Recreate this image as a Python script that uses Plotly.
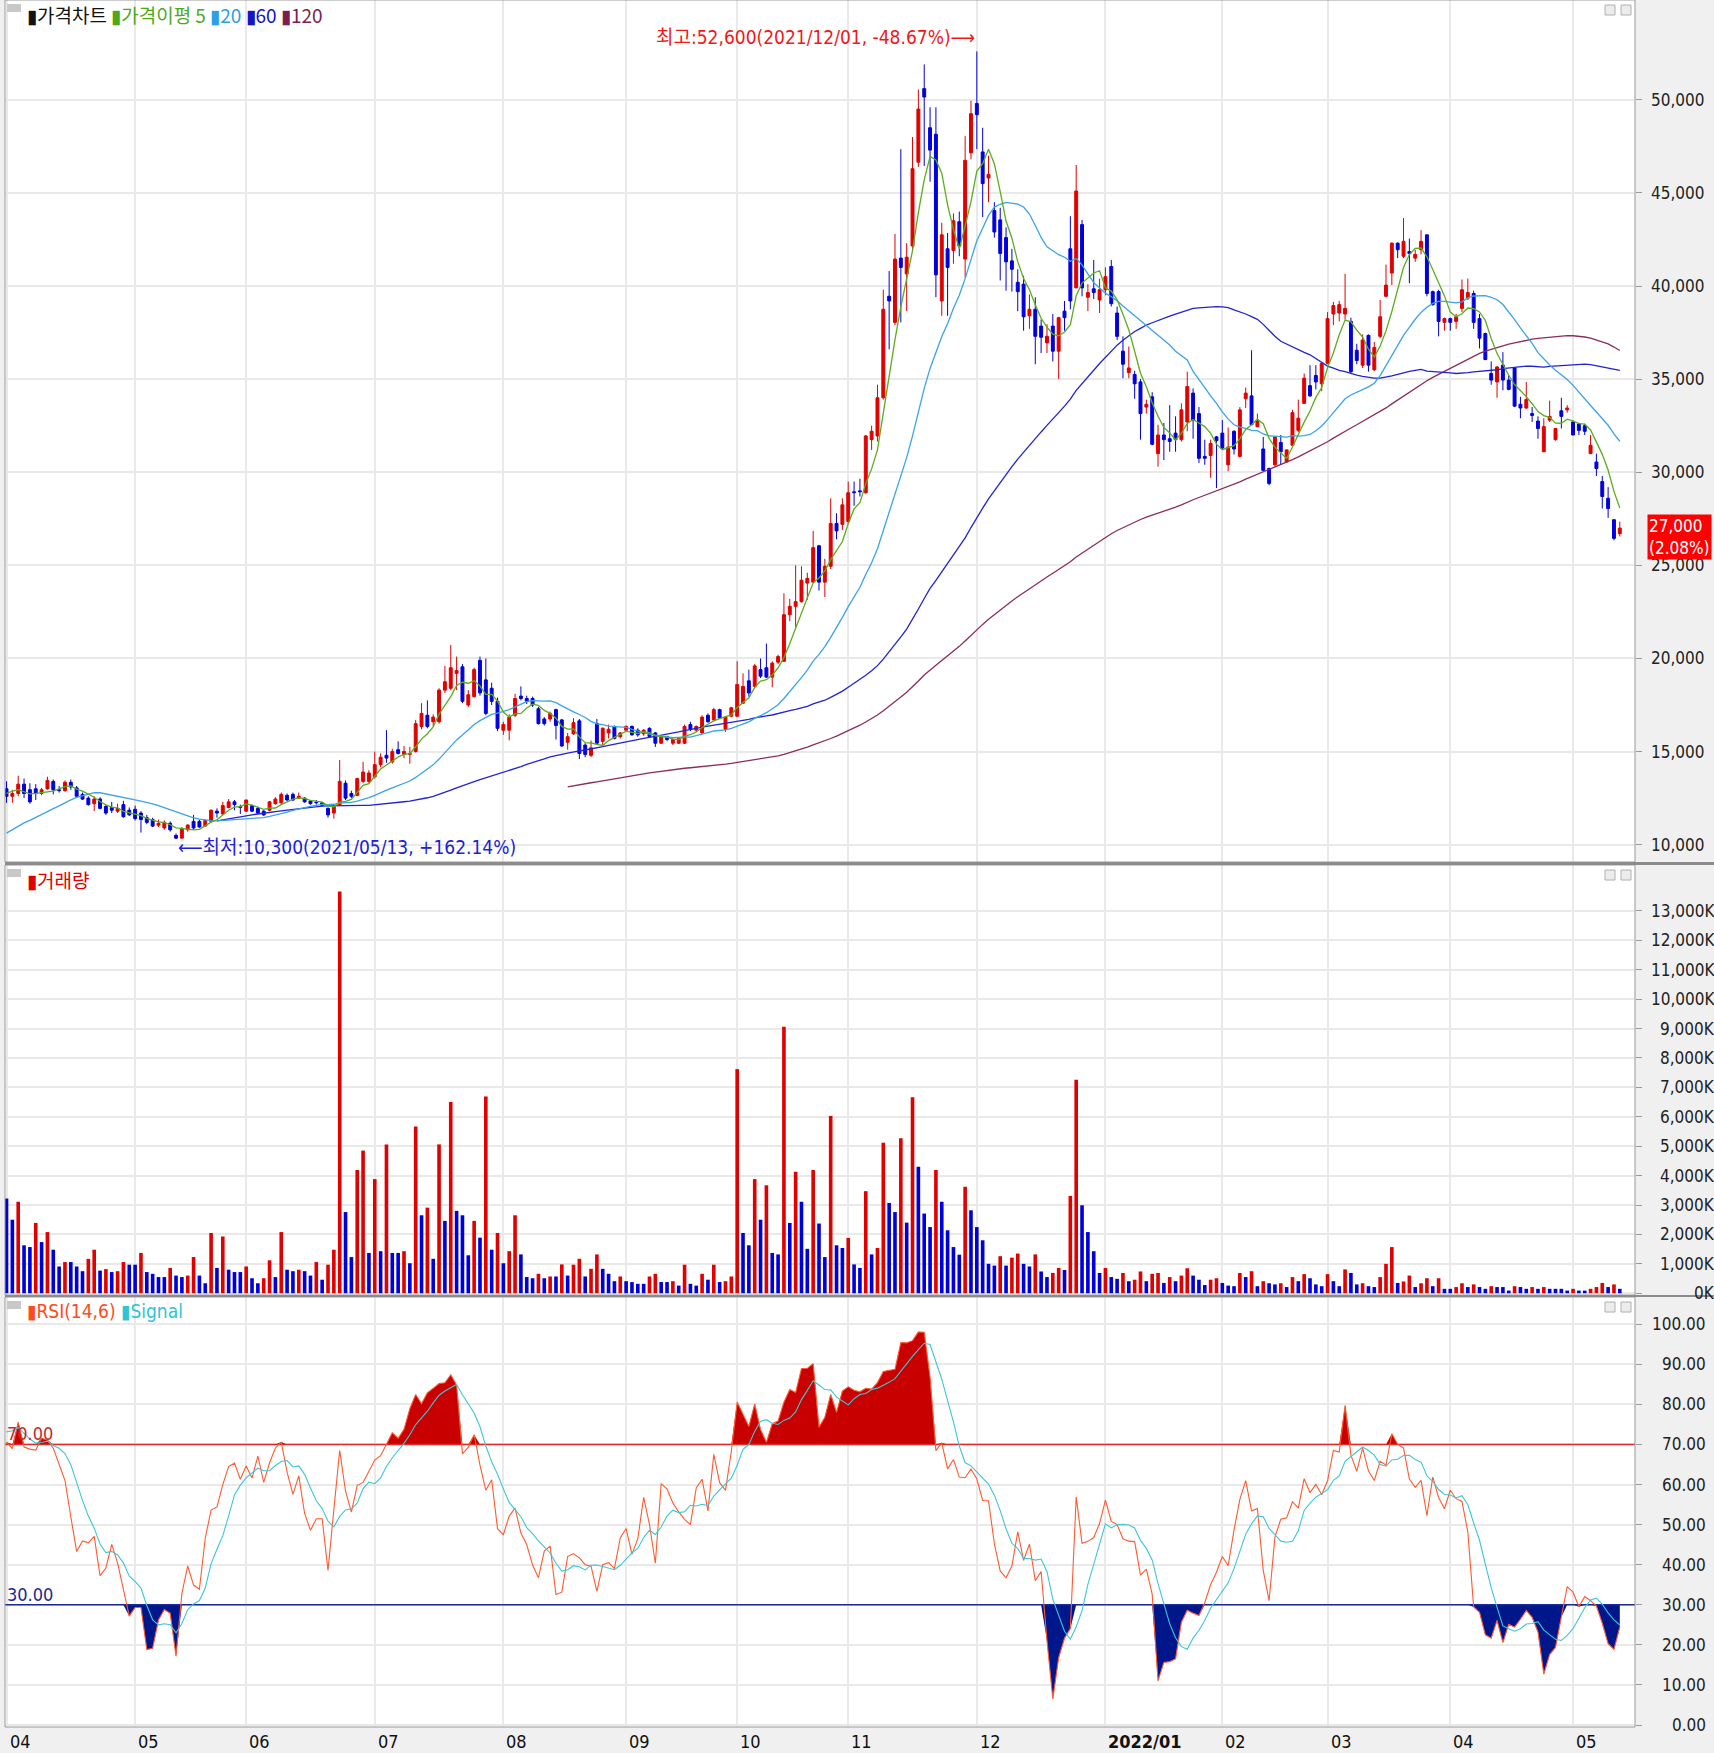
import numpy as np
import plotly.graph_objects as go

# ---------------- data (trading-day index 0 = 2021-04-01) ----------------
month_labels = ["04", "05", "06", "07", "08", "09", "10", "11", "12", "2022/01", "02", "03", "04", "05"]
month_start_idx = [0, 22, 41, 63, 85, 106, 125, 144, 166, 188, 208, 226, 247, 268]

# warm-up values before 2021-04-01 (only used for moving averages / RSI / volume colour)
pre_close = [8600, 8400, 8900, 8700, 9100, 9500, 9200, 9600, 9400, 9800, 10300, 9900,
             10100, 9700, 10200, 10000, 10600, 10300, 11000, 12100, 12900, 13300, 12850]
pre_volume_k = [3500]

opens = [
    # Apr 2021
    13000, 12600, 12750, 13250, 12950, 13000, 12750, 13000, 13400, 12950, 12900, 13350, 13050, 12700, 12500, 12200, 12450, 12050, 12000, 11800, 12150, 11850,
    # May
    11900, 11700, 11450, 11350, 11050, 10900, 11150, 10500, 10350, 10800, 11250, 11250, 11000, 11250, 11800, 11650, 12000, 12300, 12050,
    # Jun
    11800, 12100, 11950, 11800, 11850, 12200, 12250, 12650, 12700, 12500, 12500, 12350, 12300, 12250, 11950, 11700, 12150, 13300, 12750, 12650, 13400, 13400,
    # Jul
    13650, 14300, 14800, 14450, 15100, 14850, 14850, 15000, 16350, 16950, 16600, 16600, 18300, 18400, 19200, 19550, 17500, 17950, 19900, 18850, 18400, 17700,
    # Aug
    16150, 16150, 16950, 17980, 17850, 17850, 17300, 16750, 16750, 17250, 16700, 15500, 15950, 16650, 15350, 14800, 16500, 15550, 16000, 16350, 15800,
    # Sep
    16150, 16350, 16150, 15950, 16250, 16000, 15450, 15800, 15450, 15450, 15450, 16450, 16150, 16000, 16950, 16700, 17250, 16200, 16900,
    # Oct
    16900, 17600, 18800, 18500, 19400, 19500, 19000, 19800, 19850, 22350, 22800, 23050, 24050, 24100, 26050, 24100, 24950, 27250, 27200,
    # Nov
    27350, 28950, 29000, 28900, 31750, 31950, 34000, 39450, 38050, 41500, 40650, 42150, 46650, 50600, 48500, 48150, 39200, 42000, 41900, 43450, 41450, 47150,
    # Dec
    49800, 47200, 45800, 44050, 43550, 42600, 41350, 40200, 40100, 38400, 38750, 37850, 36950, 37850, 36500, 38650, 42000, 39900, 43300, 39400, 39850, 39250,
    # Jan 2022
    39800, 41050, 38550, 36500, 35350, 35250, 34850, 33500, 34050, 31000, 32000, 31800, 32100, 31750, 32700, 34250, 33150, 30850, 30900, 31900,
    # Feb
    32100, 30400, 32200, 30850, 33950, 34100, 32450, 31250, 30200, 30400, 31600, 30550, 31450, 32250, 33700, 34650, 35200, 34750,
    # Mar
    35850, 38500, 38550, 38500, 38100, 36550, 35750, 37350, 35500, 37300, 39450, 40700, 42300, 41600, 41850, 41500, 41950, 42750, 39700, 39700, 38050,
    # Apr
    38250, 38100, 38800, 39350, 39600, 38250, 37450, 35300, 34850, 35750, 34950, 35600, 33650, 33450, 33150, 32750, 31100, 32800, 31750, 33300, 33350,
    # May
    32700, 32600, 32500, 31000, 30550, 29500, 28600, 27450, 26700,
]
highs = [
    13400, 12950, 13700, 13550, 13300, 13250, 13050, 13650, 13500, 13150, 13450, 13500, 13150, 12800, 12600, 12600, 12550, 12150, 12300, 12200, 12350, 12000,
    12100, 11800, 11600, 11450, 11350, 11300, 11250, 10600, 10950, 11100, 11600, 11350, 11350, 11900, 11950, 12300, 12450, 12400, 12150,
    12350, 12150, 12050, 11850, 12350, 12550, 12800, 12750, 12800, 12800, 12550, 12400, 12400, 12300, 12000, 12100, 14550, 13450, 12900, 13600, 14450, 14000,
    15000, 14900, 16150, 15150, 15550, 15300, 15250, 16700, 17600, 17750, 17000, 18400, 19600, 20720, 20100, 19700, 18300, 19500, 20100, 20000, 18700, 17900,
    16600, 17000, 18100, 18500, 18000, 17950, 17400, 16850, 17150, 17300, 16750, 16000, 16800, 16750, 15450, 15600, 16750, 16300, 16450, 16400, 16050,
    16400, 16400, 16250, 16200, 16300, 16050, 15850, 15850, 15700, 15750, 16450, 16600, 16400, 16950, 17050, 17350, 17300, 16900, 17400,
    19850, 19200, 19400, 19700, 20000, 20800, 19850, 20200, 23500, 23200, 25000, 24950, 24600, 26850, 26100, 25350, 28600, 27800, 28600,
    29500, 29500, 29650, 32000, 32500, 34700, 39800, 40800, 42800, 47350, 42300, 48000, 50550, 51900, 49600, 49600, 43400, 42850, 43900, 44000, 48050, 49950,
    52600, 48500, 47000, 44500, 44200, 43150, 42000, 40900, 40550, 39550, 39400, 38200, 37950, 38500, 38350, 39200, 43750, 46500, 43550, 40100, 41400, 40400,
    41000, 41400, 38900, 37300, 36750, 35450, 35000, 33900, 34300, 32550, 32650, 33600, 33000, 33700, 35400, 34500, 33500, 31750, 31750, 31950,
    32800, 32400, 32250, 33500, 34550, 36550, 33150, 31900, 30250, 31900, 32000, 31200, 33350, 33900, 35300, 35750, 35750, 35850,
    38600, 39150, 39200, 40650, 38300, 36900, 37400, 37400, 37000, 39250, 41150, 42350, 42350, 43650, 42550, 41950, 43000, 42750, 39750, 39800, 38300,
    38300, 38500, 40350, 40400, 39750, 38500, 37500, 35950, 35700, 36450, 35200, 35650, 34050, 34850, 33500, 33000, 32900, 33850, 32350, 34000, 33600,
    32750, 32650, 32600, 32000, 31000, 29800, 29200, 27450, 27350,
]
lows = [
    12250, 12250, 12600, 12500, 12200, 12400, 12650, 12950, 12700, 12800, 12850, 12950, 12550, 12400, 12100, 11800, 11900, 11600, 11700, 11700, 11450, 11550,
    11300, 10650, 11100, 10950, 10950, 10800, 10700, 10300, 10350, 10700, 10800, 10900, 10950, 11200, 11450, 11600, 11950, 11850, 11650,
    11750, 11750, 11650, 11550, 11800, 12150, 12150, 12350, 12350, 12450, 12250, 12150, 12150, 12050, 11450, 11400, 12100, 12400, 12500, 12600, 13300, 13300,
    13550, 14150, 14400, 14350, 14850, 14650, 14350, 14950, 16200, 16250, 16350, 16500, 18150, 18300, 18300, 17600, 17400, 17900, 18000, 16950, 17500, 16100,
    15900, 15600, 16850, 17750, 17550, 17400, 16450, 16400, 16600, 15650, 15250, 15100, 15900, 14600, 14700, 14700, 15400, 15350, 15700, 15650, 15700,
    16050, 15850, 15800, 15850, 15750, 15250, 15400, 15550, 15350, 15400, 15400, 16100, 16050, 15950, 16550, 16650, 16750, 16050, 16850,
    16850, 17550, 17950, 18400, 18950, 18950, 18450, 19700, 19800, 22000, 21700, 23000, 23150, 24050, 23650, 23300, 24800, 26400, 26900,
    27200, 28200, 28700, 28850, 31200, 31650, 33900, 36600, 37900, 38050, 38650, 41900, 46400, 46450, 45600, 39400, 38400, 38400, 41200, 41600, 40450, 46800,
    47350, 43700, 44500, 42600, 40300, 39750, 39700, 38650, 37600, 37700, 35800, 36400, 36400, 35950, 35000, 37600, 38750, 39900, 39450, 38650, 39300, 38550,
    39500, 38900, 37100, 35050, 35050, 33950, 31750, 33150, 31450, 30300, 30650, 31100, 31100, 31650, 32200, 31800, 30500, 30400, 29700, 29150,
    31200, 30050, 30950, 30800, 33450, 32550, 32450, 30100, 29300, 30300, 30400, 30550, 31450, 32150, 33700, 34050, 34450, 34350,
    35800, 37900, 38100, 38200, 35300, 35800, 35600, 35400, 35450, 37200, 39400, 40050, 41500, 41500, 40150, 41300, 41700, 39450, 38950, 37300, 37600,
    37600, 37700, 38600, 39250, 37700, 36650, 36050, 34700, 34000, 34400, 34400, 33500, 32900, 33400, 32700, 31800, 31100, 32700, 31700, 32350, 33200,
    32000, 32000, 32000, 31000, 29800, 28050, 27550, 26350, 26550,
]
closes = [
    12600, 12750, 13250, 12750, 12300, 12750, 12950, 13450, 12950, 12900, 13350, 13100, 12600, 12450, 12150, 12450, 11950, 11700, 11850, 11950, 11500, 11600,
    11400, 11350, 11200, 11000, 11150, 11200, 10800, 10350, 10850, 11050, 10900, 10950, 11300, 11850, 11700, 12100, 12300, 12150, 12000,
    12400, 11800, 11700, 11600, 12300, 12450, 12700, 12400, 12400, 12600, 12300, 12200, 12250, 12100, 11600, 12050, 13400, 12500, 12600, 13550, 13900, 13850,
    14300, 14700, 14650, 15000, 14900, 15000, 14900, 16500, 17050, 16350, 16850, 18300, 18750, 19500, 19350, 17700, 18050, 19400, 18150, 17050, 17700, 16250,
    16450, 16850, 17850, 17850, 17700, 17500, 16500, 16500, 17050, 16400, 15300, 15800, 16550, 14900, 14850, 15200, 15450, 16250, 16200, 15700, 16000,
    16350, 15900, 15900, 16150, 15800, 15450, 15800, 15650, 15650, 15700, 16350, 16200, 16350, 16850, 16600, 17250, 16800, 16850, 17350,
    18600, 18500, 18150, 19600, 19050, 19000, 19750, 20100, 22350, 22800, 23050, 24200, 24300, 25950, 24100, 24950, 27250, 26850, 28250,
    28900, 28900, 28950, 31950, 32200, 34000, 38750, 39200, 41450, 41000, 41550, 46300, 49500, 50150, 47300, 40600, 42750, 41000, 43500, 42150, 46750, 49250,
    49200, 45500, 46000, 42900, 41750, 41300, 40900, 39700, 38350, 38750, 37300, 37250, 37300, 36500, 38300, 38300, 39200, 45100, 39900, 39650, 39650, 39800,
    40500, 39050, 37300, 35800, 35600, 34750, 33150, 33650, 31500, 32000, 31750, 31650, 31750, 33350, 34600, 32800, 30750, 30750, 31550, 31700,
    31300, 31350, 31250, 33350, 34250, 32550, 32800, 30100, 29400, 31900, 31100, 31200, 33200, 32900, 35050, 34100, 34850, 35850,
    38250, 38950, 39000, 38800, 35400, 36000, 37100, 35750, 36700, 38350, 40050, 42300, 41950, 42400, 41750, 41700, 42400, 39600, 39000, 38100, 38250,
    38050, 38350, 39800, 39650, 38050, 37200, 36050, 34950, 35650, 34950, 34450, 33550, 33450, 33900, 33050, 32350, 32450, 33000, 32350, 33000, 33450,
    32000, 32250, 32200, 31450, 30200, 28700, 28050, 26450, 27000,
]
volume_k = [
    3220, 2500, 3110, 1630, 1570, 2390, 1740, 2080, 1480, 910, 1060, 1060, 910, 750, 1170, 1480, 770, 820, 720, 750, 1060, 970,
    970, 1370, 720, 660, 550, 550, 860, 600, 550, 600, 1230, 600, 340, 2050, 860, 1930, 800, 720, 720,
    910, 510, 340, 510, 1120, 550, 2080, 800, 750, 800, 750, 600, 1060, 460, 970, 1480, 13660, 2760, 1230, 4190, 4850, 1370,
    3880, 1430, 5060, 1370, 1370, 1430, 1020, 5670, 2650, 2910, 1170, 5060, 2460, 6500, 2800, 2650, 1290, 2460, 1890, 6690, 1480, 2050,
    1020, 1430, 2650, 1320, 550, 510, 660, 510, 570, 570, 980, 600, 970, 1170, 570, 830, 1320, 830, 660, 410, 570,
    410, 380, 320, 320, 570, 660, 380, 380, 410, 260, 970, 320, 260, 660, 460, 970, 380, 410, 570,
    7620, 2050, 1630, 3880, 2500, 3670, 1370, 1320, 9060, 2390, 4130, 3110, 1510, 4190, 2370, 1230, 6030, 1630, 1540,
    1880, 980, 860, 3470, 1320, 1540, 5120, 3070, 2760, 5270, 2400, 6660, 4300, 2710, 2250, 4190, 3110, 2140, 1570, 1310, 3620, 2820,
    2250, 1800, 1000, 940, 1260, 940, 1210, 1350, 1000, 910, 1320, 740, 550, 690, 860, 790, 3310, 7260, 2990, 2080, 1430, 690,
    860, 550, 490, 690, 410, 460, 740, 410, 660, 690, 350, 550, 410, 600, 850, 600, 460, 280, 460, 510,
    350, 260, 240, 690, 550, 750, 240, 410, 340, 300, 340, 210, 550, 410, 650, 510, 300, 240,
    650, 410, 240, 810, 690, 300, 340, 240, 210, 550, 1000, 1570, 350, 400, 600, 210, 340, 510, 240, 510, 150,
    150, 210, 340, 210, 300, 210, 150, 240, 210, 210, 90, 240, 210, 150, 210, 150, 210, 150, 150, 150, 90,
    150, 90, 90, 150, 210, 350, 210, 300, 150,
]

price_ticks = [10000, 15000, 20000, 25000, 30000, 35000, 40000, 45000, 50000]
volume_ticks_k = list(range(0, 14000, 1000))
rsi_ticks = [0, 10, 20, 30, 40, 50, 60, 70, 80, 90, 100]

high_text = "최고:52,600(2021/12/01, -48.67%)⟶"
low_text = "⟵최저:10,300(2021/05/13, +162.14%)"
last_text = "27,000<br>(2.08%)"

n = len(closes)
assert len(opens) == n and len(highs) == n and len(lows) == n and len(volume_k) == n, (len(opens), len(highs), len(lows), len(closes), len(volume_k))

# ---------------- derived series ----------------
o = np.array(opens, float); h = np.array(highs, float)
l = np.array(lows, float); c = np.array(closes, float)
v = np.array(volume_k, float)
idx = np.arange(n)
pre = np.array(pre_close, float)
npre = len(pre)
allc = np.concatenate([pre, c])


def sma(arr, w):
    out = np.full(len(arr), np.nan)
    cs = np.cumsum(np.insert(arr, 0, 0.0))
    out[w - 1:] = (cs[w:] - cs[:-w]) / w
    return out


ma = {p: sma(allc, p)[npre:] for p in (5, 20, 60, 120)}

d = np.diff(allc)
up = np.where(d > 0, d, 0.0)
dn = np.where(d < 0, -d, 0.0)
au = sma(up, 14); ad = sma(dn, 14)
rsi_all = 100 * au / (au + ad)
sig_all = np.full(len(rsi_all), np.nan)
sig_all[13:] = sma(rsi_all[13:], 6)
rsi = rsi_all[npre - 1:]
sig = sig_all[npre - 1:]

# ---------------- geometry ----------------
W, H = 1714, 1753
LM, RM, TM, BM = 5, 79, 0, 26
PW, PH = W - LM - RM, H - TM - BM


def px_x(X):
    return (X - LM) / PW


def px_y(Y):
    return (PH - (Y - TM)) / PH


UP = "#e00000"
DN = "#0000dc"
GRID = "#e9e9e9"
AXF = "DejaVu Sans Condensed, Liberation Sans Narrow, DejaVu Sans, sans-serif"
KRF = "Noto Sans CJK KR, sans-serif"
MIXF = "DejaVu Sans Condensed, Noto Sans CJK KR, sans-serif"

xr = [-0.26, 278.6]
dom_p = [px_y(862), 1.0]
dom_v = [px_y(1295), px_y(865)]
dom_r = [0.0, px_y(1297)]

fig = go.Figure()

# candles
is_up = c >= o
body_col = [UP if u else DN for u in is_up]
for col, mask in ((UP, is_up), (DN, ~is_up)):
    xs, ys = [], []
    for i in idx[mask]:
        xs += [i, i, None]
        ys += [l[i], h[i], None]
    fig.add_trace(go.Scatter(x=xs, y=ys, mode="lines", line=dict(color=col, width=1),
                             hoverinfo="skip", xaxis="x", yaxis="y"))
fig.add_trace(go.Bar(x=idx, y=np.abs(c - o), base=np.minimum(o, c), width=0.5,
                     marker=dict(color=body_col, line=dict(color=body_col, width=1)),
                     hoverinfo="skip", xaxis="x", yaxis="y"))

# moving averages
ma_cols = {5: "#5cad1e", 20: "#3aa3ea", 60: "#2222d4", 120: "#8a2c5c"}
for p in (120, 60, 20, 5):
    fig.add_trace(go.Scatter(x=idx, y=ma[p], mode="lines", line=dict(color=ma_cols[p], width=1.3),
                             hoverinfo="skip", xaxis="x", yaxis="y", connectgaps=False))

# volume: red when volume rises versus the previous day
prev_v = np.concatenate([pre_volume_k, v[:-1]])
vol_col = [UP if v[i] > prev_v[i] else DN for i in idx]
fig.add_trace(go.Bar(x=idx, y=v, width=0.62, marker=dict(color=vol_col, line=dict(width=0)),
                     hoverinfo="skip", xaxis="x2", yaxis="y2"))

# RSI fills
fig.add_trace(go.Scatter(x=idx, y=np.full(n, 70.0), mode="lines", line=dict(width=0),
                         hoverinfo="skip", xaxis="x3", yaxis="y3"))
fig.add_trace(go.Scatter(x=idx, y=np.maximum(rsi, 70), mode="lines", line=dict(width=0),
                         fill="tonexty", fillcolor="#c80000", hoverinfo="skip", xaxis="x3", yaxis="y3"))
fig.add_trace(go.Scatter(x=idx, y=np.full(n, 30.0), mode="lines", line=dict(width=0),
                         hoverinfo="skip", xaxis="x3", yaxis="y3"))
fig.add_trace(go.Scatter(x=idx, y=np.minimum(rsi, 30), mode="lines", line=dict(width=0),
                         fill="tonexty", fillcolor="#00178c", hoverinfo="skip", xaxis="x3", yaxis="y3"))
fig.add_trace(go.Scatter(x=xr, y=[70, 70], mode="lines", line=dict(color="#e02a2a", width=1.6),
                         hoverinfo="skip", xaxis="x3", yaxis="y3"))
fig.add_trace(go.Scatter(x=xr, y=[30, 30], mode="lines", line=dict(color="#1a2a96", width=1.6),
                         hoverinfo="skip", xaxis="x3", yaxis="y3"))
fig.add_trace(go.Scatter(x=idx, y=rsi, mode="lines", line=dict(color="#ff5a30", width=1.1),
                         hoverinfo="skip", xaxis="x3", yaxis="y3"))
fig.add_trace(go.Scatter(x=idx, y=sig, mode="lines", line=dict(color="#3cc6d6", width=1.1),
                         hoverinfo="skip", xaxis="x3", yaxis="y3"))

xa = dict(range=xr, tickvals=month_start_idx, showticklabels=False, showgrid=True, gridcolor=GRID,
          gridwidth=1.5, zeroline=False, ticks="", showline=False, fixedrange=True)
ya = dict(side="right", showticklabels=False, ticks="outside", ticklen=6, tickcolor="#9a9a9a",
          showgrid=True, gridcolor=GRID, gridwidth=1.5, zeroline=False, showline=False)

fig.update_layout(
    width=W, height=H, margin=dict(l=LM, r=RM, t=TM, b=BM, pad=0),
    paper_bgcolor="#f0f0f0", plot_bgcolor="#ffffff", showlegend=False, barmode="overlay",
    xaxis=dict(xa, domain=[0, 1], anchor="y"),
    xaxis2=dict(xa, domain=[0, 1], anchor="y2"),
    xaxis3=dict(xa, domain=[0, 1], anchor="y3"),
    yaxis=dict(ya, domain=dom_p, range=[9070, 55360], tickvals=price_ticks),
    yaxis2=dict(ya, domain=dom_v, range=[-60, 14560], tickvals=volume_ticks_k),
    yaxis3=dict(ya, domain=dom_r, range=[-0.5, 106.8], tickvals=rsi_ticks),
)

ann = []
TF = dict(family=AXF, size=17, color="#222")
# right tick labels
for t in price_ticks:
    ann.append(dict(x=px_x(1707), y=t, xref="paper", yref="y", xanchor="right", yanchor="middle",
                    text=f"{t:,}", showarrow=False, font=TF))
for t in volume_ticks_k:
    ann.append(dict(x=px_x(1717), y=t, xref="paper", yref="y2", xanchor="right", yanchor="middle",
                    text=f"{t:,}K", showarrow=False, font=TF))
for t in rsi_ticks:
    ann.append(dict(x=px_x(1708), y=t, xref="paper", yref="y3", xanchor="right", yanchor="middle",
                    text=f"{t:.2f}", showarrow=False, font=TF))
# month labels
for lab, mi in zip(month_labels, month_start_idx):
    bold = "/" in lab
    ann.append(dict(x=mi, y=0, xref="x3", yref="paper", xanchor="left", yanchor="top", xshift=1, yshift=-2,
                    text=f"<b>{lab}</b>" if bold else lab, showarrow=False,
                    font=dict(family=AXF, size=18, color="#111")))
# last price box
ann.append(dict(x=px_x(1647), y=c[-1], xref="paper", yref="y", xanchor="left", yanchor="top", yshift=14,
                text=last_text, showarrow=False, align="left", bgcolor="#ff0000", borderpad=1,
                font=dict(family=AXF, size=17, color="#ffffff")))
# high / low markers
imax = int(np.argmax(h)); imin = int(np.argmin(l))
ann.append(dict(x=imax, y=h[imax], xref="x", yref="y", xanchor="right", yanchor="bottom", yshift=1,
                text=high_text, showarrow=False, font=dict(family=MIXF, size=19, color="#f01818")))
ann.append(dict(x=imin, y=l[imin], xref="x", yref="y", xanchor="left", yanchor="middle", yshift=-8,
                text=low_text, showarrow=False, font=dict(family=MIXF, size=19, color="#2020d8")))
# RSI level labels
ann.append(dict(x=px_x(5), y=70, xref="paper", yref="y3", xanchor="left", yanchor="bottom", yshift=-2,
                text="70.00", showarrow=False, font=dict(family=AXF, size=18, color="#c82828")))
ann.append(dict(x=px_x(5), y=30, xref="paper", yref="y3", xanchor="left", yanchor="bottom", yshift=-2,
                text="30.00", showarrow=False, font=dict(family=AXF, size=18, color="#1a2a96")))
# panel titles
ann.append(dict(x=px_x(25), y=px_y(14), xref="paper", yref="paper", xanchor="left", yanchor="middle",
                text="<span style='color:#111'>▮가격차트</span> <span style='color:#4ea81c'>▮가격이평 5</span>"
                     " <span style='color:#2f9ee8'>▮20</span> <span style='color:#1414c8'>▮60</span>"
                     " <span style='color:#7a1f4f'>▮120</span>",
                showarrow=False, font=dict(family=KRF, size=19)))
ann.append(dict(x=px_x(25), y=px_y(879), xref="paper", yref="paper", xanchor="left", yanchor="middle",
                text="▮거래량", showarrow=False, font=dict(family=KRF, size=19, color="#e00000")))
ann.append(dict(x=px_x(25), y=px_y(1311), xref="paper", yref="paper", xanchor="left", yanchor="middle",
                text="<span style='color:#ff4a20'>▮RSI(14,6)</span> <span style='color:#2ec4d4'>▮Signal</span>",
                showarrow=False, font=dict(family=AXF, size=19)))
fig.update_layout(annotations=ann)

shapes = []
# panel frames and separators
for top, bot in ((0, 862), (865, 1295), (1297, 1727)):
    shapes.append(dict(type="rect", xref="paper", yref="paper", x0=0, x1=1, y0=px_y(bot), y1=px_y(top),
                       line=dict(color="#9a9a9a", width=1), layer="above"))
for y0, y1 in ((862, 865), (1295, 1297)):
    shapes.append(dict(type="rect", xref="paper", yref="paper", x0=0, x1=px_x(W), y0=px_y(y1), y1=px_y(y0),
                       fillcolor="#8c8c8c", line=dict(width=0), layer="above"))
# panel icons
for ty in (4, 869, 1301):
    shapes.append(dict(type="rect", xref="paper", yref="paper", x0=px_x(7), x1=px_x(21), y0=px_y(ty + 8), y1=px_y(ty),
                       fillcolor="#c8c8c8", line=dict(width=0)))
    for bx in (1605, 1621):
        shapes.append(dict(type="rect", xref="paper", yref="paper", x0=px_x(bx), x1=px_x(bx + 10),
                           y0=px_y(ty + 11), y1=px_y(ty + 1), fillcolor="#ececec",
                           line=dict(color="#b0b0b0", width=1)))
fig.update_layout(shapes=shapes)

fig.write_html("out.html", config={"displayModeBar": False},
               post_script="document.body.style.margin='0';document.body.style.overflow='hidden';")
